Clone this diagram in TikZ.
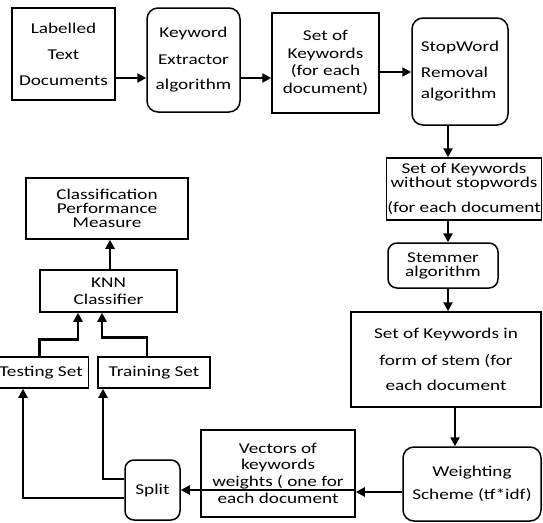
\documentclass[tikz,border=0pt]{standalone}
\usepackage{fontspec}
\setmainfont[FakeStretch=1.28]{Carlito}
\usetikzlibrary{arrows.meta}
\begin{document}
\begin{tikzpicture}[x=1pt, y=-1pt,
        box/.style={draw, line width=1.5pt, inner sep=1pt, align=center,
            font=\fontsize{15}{17}\selectfont},
        rbox/.style={box, rounded corners=11pt},
        arr/.style={line width=2.6pt, -{Triangle[length=9pt,width=9pt]}}]
            \clip (0,0) rectangle (543,522);

            \node [box, minimum width=103, minimum height=92] (lab) at (63.5,54)
                {Labelled\\[9pt]Text\\[9pt]Documents};
            \node [rbox, minimum width=93, minimum height=104] (kex) at (193.5,60)
                {Keyword\\[10pt]Extractor\\[8pt]algorithm};
            \node [box, minimum width=107, minimum height=100] (sok) at (325.5,63)
                {Set of\\[1pt]Keywords\\[0pt](for each\\[1pt]document)};
            \node [rbox, align=left, minimum width=96, minimum height=107] (swr) at (460,71.5)
                {StopWord\\[9pt]Removal\\[4pt]algorithm};
            \node [box, minimum width=148, minimum height=62] (sokw) at (464,189)
                {Set of Keywords\\[-3pt]without stopwords\\[8pt](for each document};
            \node [rbox, rounded corners=9pt, minimum width=110, minimum height=45] (stem) at (443,265.5)
                {Stemmer\\[-3pt]algorithm};
            \node [box, minimum width=190, minimum height=95] (sokst) at (446,359.5)
                {Set of Keywords in\\[10pt]form of stem (for\\[8pt]each document};
            \node [rbox, minimum width=138, minimum height=74] (wts) at (472,484)
                {Weighting\\[6pt]Scheme (tf*idf)};
            \node [box, minimum width=154, minimum height=87] (vec) at (278,473.5)
                {Vectors of\\[-1pt]keywords\\[0pt]weights ( one for\\[0pt]each document};
            \node [rbox, rounded corners=9pt, minimum width=55, minimum height=60] (split) at (152.5,490)
                {Split};
            \node [box, minimum width=95, minimum height=31] (test) at (41,372.5)
                {Testing Set};
            \node [box, minimum width=112, minimum height=31] (train) at (154,372.5)
                {Training Set};
            \node [box, minimum width=137, minimum height=42] (knn) at (108.5,291)
                {KNN\\[0pt]Classifier};
            \node [box, minimum width=162, minimum height=61] (cpm) at (107,208.5)
                {Classification\\[-3pt]Performance\\[-3pt]Measure};

            \draw [arr] ([yshift=-24pt]lab.east) -- ([yshift=-18pt]kex.west);
            \draw [arr] ([yshift=-18pt]kex.east) -- ([yshift=-15pt]sok.west);
            \draw [arr] ([yshift=-9pt]sok.east) -- ([yshift=-0.5pt]swr.west);
            \draw [arr] ([xshift=-12pt]swr.south) -- ([xshift=-16pt]sokw.north);
            \draw [arr] ([xshift=-16pt]sokw.south) -- ([xshift=5pt]stem.north);
            \draw [arr] ([xshift=5pt]stem.south) -- ([xshift=2pt]sokst.north);
            \draw [arr] ([xshift=9pt]sokst.south) -- ([xshift=-17pt]wts.north);
            \draw [arr] ([yshift=-8pt]wts.west) -- ([yshift=-18.5pt]vec.east);
            \draw [arr] ([yshift=-16.5pt]vec.east) -- (split.east);
            \draw [arr] ([yshift=11pt]split.west) -| ([xshift=-51pt]train.south);
            \draw [arr] ([yshift=-8pt]split.west) -| ([xshift=-18pt]test.south);
            \draw [arr] ([xshift=-1.5pt]test.north) -- ++(0,-17) -| ([xshift=-30.5pt]knn.south);
            \draw [arr] ([xshift=-7pt]train.north) -- ++(0,-19) -| ([xshift=-6.5pt]knn.south);
            \draw [arr] ([xshift=1.5pt]knn.north) -- ([xshift=3pt]cpm.south);
\end{tikzpicture}
\end{document}
